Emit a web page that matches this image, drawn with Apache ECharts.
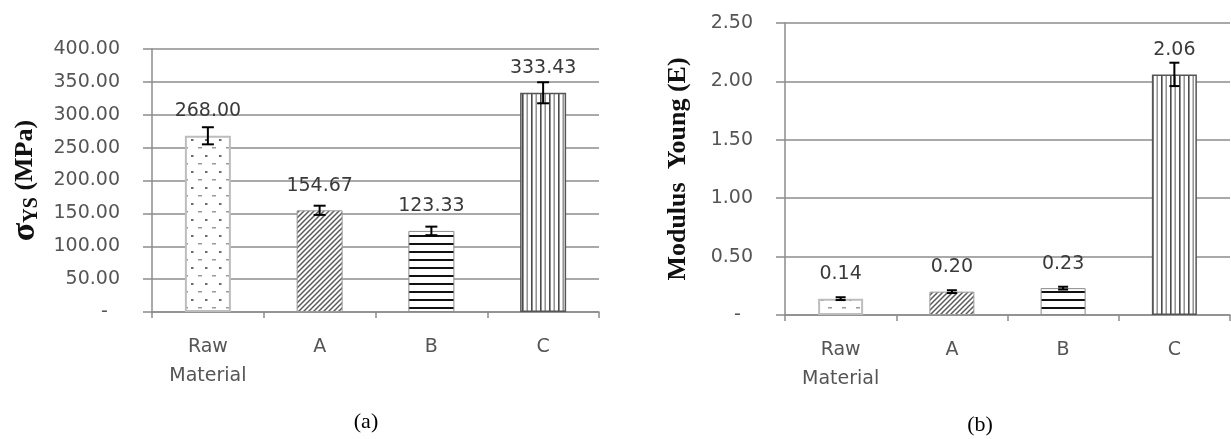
<!DOCTYPE html>
<html><head><meta charset="utf-8">
<script src="https://cdn.jsdelivr.net/npm/echarts@6/dist/echarts.min.js"></script>
<style>html,body{margin:0;padding:0;background:#fff}#c{width:1231px;height:439px}</style>
</head><body><div id="c"></div>
<script>
// ---- data ----
const categories = ['Raw\nMaterial', 'A', 'B', 'C'];
const yieldValues = [268.00, 154.67, 123.33, 333.43];
const yieldErrors = [13, 7, 6.5, 16];
const modulusValues = [0.14, 0.20, 0.23, 2.06];
const modulusErrors = [0.012, 0.012, 0.012, 0.10];
const yieldAxis = { min: 0, max: 400, interval: 50 };
const modulusAxis = { min: 0, max: 2.5, interval: 0.5 };
const captions = ['(a)', '(b)'];

// ---- patterns ----
function pat(w, h, draw) {
  const c = document.createElement('canvas');
  c.width = w; c.height = h;
  const g = c.getContext('2d');
  g.fillStyle = '#fff'; g.fillRect(0, 0, w, h);
  draw(g);
  return { image: c, repeat: 'repeat' };
}
const dotsPat = pat(14, 16, g => {
  g.fillStyle = '#9a9a9a'; g.fillRect(2, 3, 4, 1.5);
  g.fillStyle = '#6a6a6a'; g.fillRect(9, 11, 2.5, 2);
});
const diagPat = pat(5, 5, g => {
  g.strokeStyle = '#5a5a5a'; g.lineWidth = 1.5;
  g.beginPath();
  g.moveTo(-1, 6); g.lineTo(6, -1);
  g.moveTo(-1, 1); g.lineTo(1, -1);
  g.moveTo(4, 6); g.lineTo(6, 4);
  g.stroke();
});
const horizPat = pat(8, 8, g => {
  g.fillStyle = '#111'; g.fillRect(0, 3, 8, 2);
});
const vertPat = pat(9, 4, g => {
  g.fillStyle = '#4a4a4a'; g.fillRect(0, 0, 1.6, 4);
  g.fillStyle = '#8a8a8a'; g.fillRect(4.5, 0, 1.4, 4);
});
const barStyles = [
  { color: dotsPat, borderColor: '#bdbdbd', borderWidth: 2 },
  { color: diagPat, borderColor: '#9a9a9a', borderWidth: 1 },
  { color: horizPat, borderColor: '#8a8a8a', borderWidth: 1 },
  { color: vertPat, borderColor: '#555', borderWidth: 1.5 }
];

const gridColor = '#8c8c8c';
const labFont = 'DejaVu Sans';

function yAxisCfg(gi, ax, name, gap, nameStyle) {
  return {
    gridIndex: gi, type: 'value', min: ax.min, max: ax.max, interval: ax.interval,
    axisLine: { show: true, lineStyle: { color: gridColor, width: 1.5 } },
    axisTick: { show: true, length: 9, lineStyle: { color: gridColor, width: 1.5 } },
    splitLine: { show: true, lineStyle: { color: gridColor, width: 1.5 } },
    axisLabel: {
      margin: 32, fontFamily: labFont, fontSize: 19, color: '#555',
      formatter: v => v === 0 ? '-  ' : v.toFixed(2)
    },
    name: name, nameLocation: 'middle', nameGap: gap, nameRotate: 90,
    nameTextStyle: nameStyle
  };
}
function xAxisCfg(gi) {
  return {
    gridIndex: gi, type: 'category', data: categories, boundaryGap: true,
    axisLine: { show: true, lineStyle: { color: gridColor, width: 1.5 } },
    axisTick: { show: true, length: 6, lineStyle: { color: gridColor, width: 1.5 } },
    axisLabel: { interval: 0, margin: 21, lineHeight: 29, fontFamily: labFont, fontSize: 19, color: '#555' },
    splitLine: { show: false }
  };
}
function barSeries(vals, xi, yi, w) {
  return {
    type: 'bar', xAxisIndex: xi, yAxisIndex: yi, barWidth: w, z: 2,
    data: vals.map((v, i) => ({ value: v, itemStyle: barStyles[i] })),
    label: {
      show: true, position: 'top', distance: 15, fontFamily: labFont, fontSize: 19,
      color: '#3a3a3a', formatter: p => p.value.toFixed(2)
    }
  };
}
function errSeries(vals, errs, xi, yi, cap) {
  return {
    type: 'custom', xAxisIndex: xi, yAxisIndex: yi, z: 5,
    encode: { x: 0, y: 1 },
    data: vals.map((v, i) => [i, v, errs[i]]),
    renderItem: (params, api) => {
      const i = api.value(0), v = api.value(1), e = api.value(2);
      const hi = api.coord([i, v + e]), lo = api.coord([i, v - e]);
      const x = hi[0];
      const st = { stroke: '#000', lineWidth: 2 };
      return {
        type: 'group', children: [
          { type: 'line', shape: { x1: x, y1: hi[1], x2: x, y2: lo[1] }, style: st },
          { type: 'line', shape: { x1: x - cap, y1: hi[1], x2: x + cap, y2: hi[1] }, style: st },
          { type: 'line', shape: { x1: x - cap, y1: lo[1], x2: x + cap, y2: lo[1] }, style: st }
        ]
      };
    }
  };
}

const chart = echarts.init(document.getElementById('c'), null, { renderer: 'canvas' });
chart.setOption({
  animation: false,
  backgroundColor: '#fff',
  grid: [
    { left: 152, right: 632, top: 49, bottom: 127 },
    { left: 785, right: 1, top: 23, bottom: 124 }
  ],
  xAxis: [xAxisCfg(0), xAxisCfg(1)],
  yAxis: [
    yAxisCfg(0, yieldAxis, '{s|σ}{sub|YS}{n| (MPa)}', 110, {
      color: '#111', fontFamily: 'Liberation Serif', fontWeight: 'bold',
      rich: {
        s: { fontSize: 34, fontWeight: 'bold', fontFamily: 'Liberation Serif', color: '#111' },
        sub: { fontSize: 20, fontWeight: 'bold', fontFamily: 'Liberation Serif', color: '#111', padding: [13, 0, 0, 0] },
        n: { fontSize: 26, fontWeight: 'bold', fontFamily: 'Liberation Serif', color: '#111' }
      }
    }),
    yAxisCfg(1, modulusAxis, 'Modulus  Young (E)', 94, {
      color: '#111', fontFamily: 'Liberation Serif', fontWeight: 'bold', fontSize: 26
    })
  ],
  series: [
    barSeries(yieldValues, 0, 0, 46),
    errSeries(yieldValues, yieldErrors, 0, 0, 6),
    barSeries(modulusValues, 1, 1, 45),
    errSeries(modulusValues, modulusErrors, 1, 1, 5)
  ],
  graphic: [
    { type: 'text', x: 366, y: 422, style: { text: captions[0], align: 'center', verticalAlign: 'middle', font: '22px "Liberation Serif"', fill: '#000' } },
    { type: 'text', x: 980, y: 425, style: { text: captions[1], align: 'center', verticalAlign: 'middle', font: '22px "Liberation Serif"', fill: '#000' } }
  ]
});
</script>
</body></html>
